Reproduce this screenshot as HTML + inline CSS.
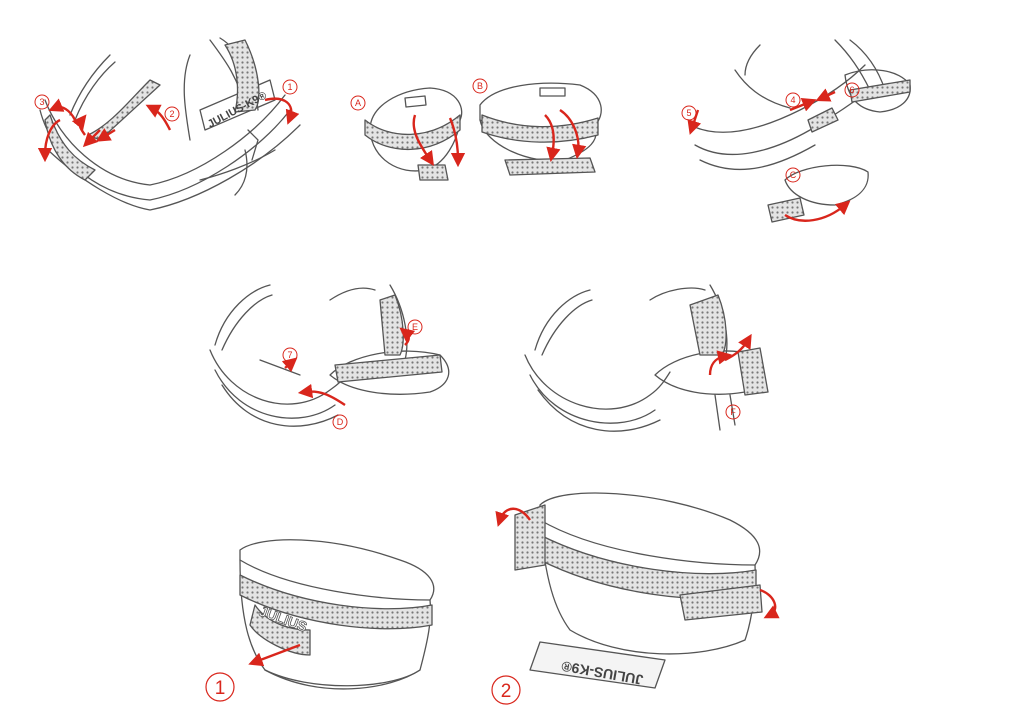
<!DOCTYPE html>
<html><head><meta charset="utf-8"><style>
html,body{margin:0;padding:0;background:#fff}
svg{display:block}
text{font-family:"Liberation Sans",sans-serif}
</style></head><body>
<svg width="1024" height="728" viewBox="0 0 1024 728" xmlns="http://www.w3.org/2000/svg">
<defs>
<pattern id="dots" width="5" height="5" patternUnits="userSpaceOnUse">
<rect width="5" height="5" fill="#e4e4e4"/><circle cx="2.5" cy="2.5" r="1.1" fill="#777"/></pattern>
<marker id="ah" markerWidth="6" markerHeight="6" refX="3" refY="3" orient="auto"><path d="M0,0 L6,3 L0,6 Z" fill="#d9261c"/></marker>
</defs>
<g fill="none" stroke="#555" stroke-width="1.3" stroke-linecap="round" stroke-linejoin="round">
<!-- Panel 1 -->
<path d="M40,110 C50,150 90,195 150,200 C200,190 260,150 290,110"/>
<path d="M45,100 C60,140 100,180 150,185 C200,175 255,135 285,95"/>
<path d="M48,150 C80,180 120,205 150,210 C200,200 260,165 300,125"/>
<path d="M70,115 C80,90 95,70 110,55"/>
<path d="M75,120 C85,95 100,75 115,62"/>
<path d="M210,40 C225,60 240,80 245,110 M220,38 C240,50 255,80 258,110"/>
<path d="M190,55 C180,80 185,110 190,140"/>
<path d="M200,110 L270,80 L275,100 L205,130 Z"/>
<path d="M245,150 C250,170 245,185 235,195 M248,130 L258,140 L252,160"/>
<path d="M200,180 C220,175 250,165 275,150"/>
<path d="M88,135 L100,140 L160,85 L150,80 C130,100 110,125 88,135 Z" fill="url(#dots)"/>
<path d="M50,115 C60,145 75,160 95,170 L85,180 C65,170 50,150 45,120 Z" fill="url(#dots)"/>
<path d="M225,45 L245,40 C260,70 262,100 255,110 L235,112 C240,90 238,65 225,45 Z" fill="url(#dots)"/>
<!-- Panel 2 -->
<path d="M370,130 C370,105 400,90 430,88 C460,90 465,110 460,120 C440,150 400,150 370,130 Z"/>
<path d="M370,130 C372,160 400,175 425,170 C445,165 458,140 460,120"/>
<path d="M365,120 C390,140 430,140 460,115 L460,130 C430,155 390,155 365,135 Z" fill="url(#dots)"/>
<path d="M405,98 L425,96 L426,105 L406,107 Z"/>
<path d="M418,165 L445,165 L448,180 L420,180 Z" fill="url(#dots)"/>
<path d="M480,105 C495,85 540,80 580,85 C605,95 605,115 595,125 C560,135 510,135 480,120 Z"/>
<path d="M480,120 C485,145 530,165 565,160 C590,150 600,140 595,125"/>
<path d="M482,115 C520,130 560,130 598,118 L598,135 C560,145 520,145 482,132 Z" fill="url(#dots)"/>
<path d="M540,88 L565,88 L565,96 L540,96 Z"/>
<path d="M505,160 L590,158 L595,172 L510,175 Z" fill="url(#dots)"/>
<!-- Panel 3 -->
<path d="M690,125 C720,140 760,130 800,110 C830,95 850,80 865,65"/>
<path d="M695,145 C730,165 775,150 810,130 C835,115 850,105 870,90"/>
<path d="M700,160 C740,180 780,165 815,145"/>
<path d="M735,70 C745,85 760,100 790,108 M760,45 C750,55 745,65 745,75"/>
<path d="M835,40 C850,55 860,70 870,90 M850,40 C870,55 880,75 885,90"/>
<path d="M845,75 C870,65 900,70 910,85 C912,100 900,110 880,112 C860,110 848,100 845,75 Z"/>
<path d="M850,90 L910,80 L910,92 L852,102 Z" fill="url(#dots)"/>
<path d="M808,120 L832,108 L838,120 L812,132 Z" fill="url(#dots)"/>
<path d="M785,180 C800,165 850,160 868,172 C870,190 855,200 835,205 C810,205 790,195 785,180 Z"/>
<path d="M768,205 L800,198 L804,215 L772,222 Z" fill="url(#dots)"/>
<!-- Panel 4 -->
<path d="M210,350 C230,400 290,420 330,390 C340,383 345,378 350,372"/>
<path d="M215,370 C240,420 300,430 335,405"/>
<path d="M222,385 C250,430 300,435 338,415"/>
<path d="M215,345 C225,310 250,290 270,285 M222,350 C235,320 255,300 272,295"/>
<path d="M330,300 C345,290 360,285 375,290 M390,285 C405,310 410,340 405,360"/>
<path d="M330,375 C350,355 400,345 440,355 C455,370 450,385 430,392 C390,398 350,392 330,375 Z"/>
<path d="M335,365 L440,355 L442,372 L338,382 Z" fill="url(#dots)"/>
<path d="M380,300 L395,295 C405,320 405,345 400,355 L385,355 Z" fill="url(#dots)"/>
<path d="M260,360 L300,375"/>
<!-- Panel 5 -->
<path d="M525,355 C545,405 610,425 650,395 C660,388 665,380 670,372"/>
<path d="M530,375 C555,425 620,435 655,410"/>
<path d="M538,390 C570,435 620,440 660,420"/>
<path d="M535,350 C545,315 570,295 590,290 M542,355 C555,325 575,305 592,300"/>
<path d="M650,300 C665,290 690,285 705,290 M710,285 C725,310 730,340 725,360"/>
<path d="M655,375 C675,355 720,345 755,355 C765,370 760,385 745,392 C710,398 675,392 655,375 Z"/>
<path d="M690,305 L718,295 C728,320 728,345 722,355 L700,355 Z" fill="url(#dots)"/>
<path d="M738,352 L760,348 L768,392 L745,395 Z" fill="url(#dots)"/>
<path d="M715,395 L720,430 M730,395 L735,425"/>
<!-- Panel 6 bag -->
<path d="M240,550 C260,535 330,535 400,560 C430,570 440,585 430,600 C380,600 290,590 240,560 Z"/>
<path d="M240,560 C240,620 250,650 265,670 C320,700 390,690 420,670 C428,640 432,620 430,600"/>
<path d="M240,575 C300,605 380,615 432,605 L432,625 C380,635 300,625 240,595 Z" fill="url(#dots)"/>
<path d="M255,605 C265,620 285,630 310,630 L310,655 C290,655 260,640 250,625 Z" fill="url(#dots)"/>
<path d="M265,670 C310,692 390,690 420,670"/>
<!-- Panel 7 bag -->
<path d="M540,505 C560,485 660,490 730,520 C760,535 765,550 755,565 C700,565 600,555 540,520 Z"/>
<path d="M540,520 C545,580 555,610 570,630 C620,660 700,660 745,640 C752,620 756,590 755,565"/>
<path d="M540,535 C610,570 700,580 756,570 L756,595 C700,605 610,595 540,560 Z" fill="url(#dots)"/>
<path d="M515,515 L545,505 L545,565 L515,570 Z" fill="url(#dots)"/>
<path d="M680,595 L760,585 L762,612 L685,620 Z" fill="url(#dots)"/>
<path d="M530,670 L540,642 L665,660 L655,688 Z" fill="#f4f4f4"/>
</g>
<!-- JULIUS labels -->
<text x="210" y="128" font-size="11" font-weight="bold" fill="#444" transform="rotate(-28 210 128)">JULIUS-K9®</text>
<text x="258" y="615" font-size="14" font-weight="bold" fill="#fff" stroke="#555" stroke-width="0.8" transform="rotate(20 258 615)">JULIUS</text>
<text x="545" y="660" font-size="14" font-weight="bold" fill="#444" transform="rotate(10 545 660) scale(-1,-1) translate(-1190,-1318)">JULIUS-K9®</text>
<!-- Red arrows -->
<g fill="none" stroke="#d9261c" stroke-width="2.4" marker-end="url(#ah)">
<path d="M265,100 C285,95 295,105 290,118"/>
<path d="M170,130 C165,120 160,112 152,108"/>
<path d="M60,120 C50,125 45,140 45,155"/>
<path d="M75,120 C70,110 62,105 55,108"/>
<path d="M100,130 L88,142"/>
<path d="M115,130 L102,138"/>
<path d="M85,135 C80,128 78,125 82,120"/>
<path d="M415,115 C410,130 420,145 430,160"/>
<path d="M450,118 C455,130 458,145 458,160"/>
<path d="M545,115 C555,125 555,140 552,155"/>
<path d="M560,110 C575,120 580,140 578,152"/>
<path d="M698,110 L692,128"/>
<path d="M790,110 L810,102"/>
<path d="M835,92 L822,98"/>
<path d="M785,215 C800,225 825,222 845,205"/>
<path d="M345,405 C330,395 320,390 305,392"/>
<path d="M405,345 C410,340 410,336 405,332"/>
<path d="M285,368 L292,362"/>
<path d="M710,375 C710,365 715,358 725,356"/>
<path d="M725,360 C735,355 742,350 748,340"/>
<path d="M300,645 L255,662"/>
<path d="M530,520 C520,505 505,505 500,520"/>
<path d="M760,590 C775,595 780,610 770,615"/>
</g>
<!-- Circled labels -->
<g fill="none" stroke="#d9261c" stroke-width="1">
<circle cx="290" cy="87" r="7"/><circle cx="172" cy="114" r="7"/><circle cx="42" cy="102" r="7"/>
<circle cx="358" cy="103" r="7"/><circle cx="480" cy="86" r="7"/>
<circle cx="689" cy="113" r="7"/><circle cx="793" cy="100" r="7"/><circle cx="852" cy="90" r="7"/><circle cx="793" cy="175" r="7"/>
<circle cx="290" cy="355" r="7"/><circle cx="340" cy="422" r="7"/><circle cx="415" cy="327" r="7"/>
<circle cx="733" cy="412" r="7"/>
</g>
<g fill="#d9261c" font-size="9" text-anchor="middle">
<text x="290" y="90">1</text><text x="172" y="117">2</text><text x="42" y="105">3</text>
<text x="358" y="106">A</text><text x="480" y="89">B</text>
<text x="689" y="116">5</text><text x="793" y="103">4</text><text x="852" y="93">6</text><text x="793" y="178">C</text>
<text x="290" y="358">7</text><text x="340" y="425">D</text><text x="415" y="330">E</text>
<text x="733" y="415">F</text>
</g>
<g fill="none" stroke="#d9261c" stroke-width="1.2"><circle cx="220" cy="687" r="14"/><circle cx="506" cy="690" r="14"/></g>
<g fill="#d9261c" font-size="19" text-anchor="middle"><text x="220" y="694">1</text><text x="506" y="697">2</text></g>
</svg>
</body></html>
